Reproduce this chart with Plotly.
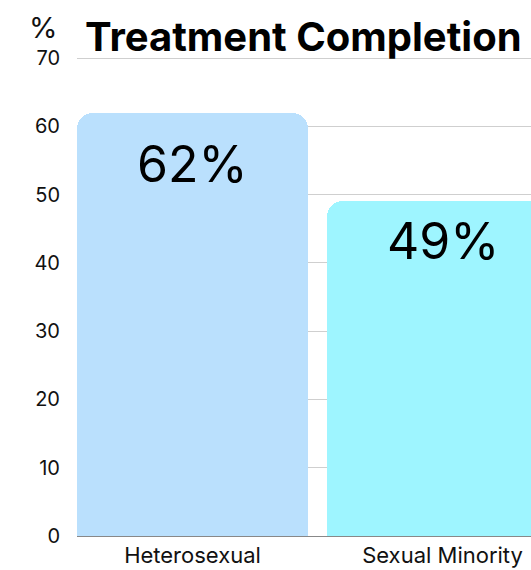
import plotly.graph_objects as go

categories = ["Heterosexual", "Sexual Minority"]
values = [62, 49]
labels = ["62%", "49%"]
colors = ["#BAE0FD", "#9EF5FF"]
y_ticks = [0, 10, 20, 30, 40, 50, 60, 70]
label_shifts = [-19, -8]

fig = go.Figure()
fig.add_trace(go.Bar(
    x=categories, y=values,
    marker=dict(color=colors, line=dict(width=0), cornerradius=16),
    width=0.924,
    hoverinfo="skip",
))

for c, v, t, s in zip(categories, values, labels, label_shifts):
    fig.add_annotation(x=c, y=v, text=t, showarrow=False, yanchor="top",
                       yshift=s, font=dict(family="Inter", size=50, color="#000"))

fig.add_annotation(xref="paper", yref="paper", x=0, y=1, xanchor="right", yanchor="bottom",
                   text="%", showarrow=False, xshift=-18, yshift=10,
                   font=dict(family="Inter", size=29, color="#111"))

fig.update_layout(
    width=531, height=570,
    margin=dict(l=77, r=0, t=57, b=34),
    paper_bgcolor="white", plot_bgcolor="white",
    showlegend=False,
    title=dict(text="<b>Treatment Completion</b>", x=0, xref="paper", xanchor="left",
               y=1, yref="paper", yanchor="bottom", pad=dict(b=6, l=8),
               font=dict(family="Inter", size=40, color="#000")),
    bargap=0,
)
fig.update_xaxes(range=[-0.462, 1.354], showgrid=False, showline=False, ticks="",
                 tickfont=dict(family="Inter", size=22, color="#111"), ticklabelstandoff=4)
fig.update_yaxes(range=[0, 70.15], tickvals=y_ticks, showgrid=True, gridcolor="#CFCFCF", gridwidth=1,
                 zeroline=True, zerolinecolor="#888", zerolinewidth=1, showline=False, ticks="",
                 tickfont=dict(family="Inter", size=20, color="#111"), ticklabelstandoff=16)

fig.write_html("out.html")
